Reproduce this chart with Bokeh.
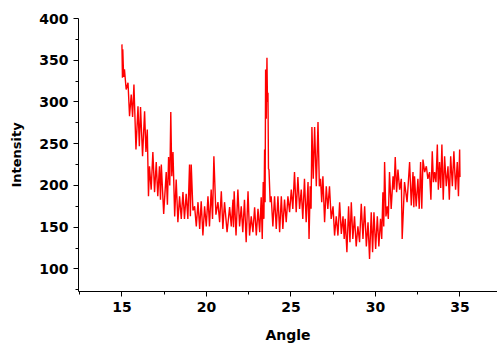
from bokeh.plotting import figure
from bokeh.models import Range1d, FixedTicker
from bokeh.embed import file_html
from bokeh.resources import INLINE

angle = [15.00, 15.03, 15.05, 15.10, 15.15, 15.25, 15.36, 15.45, 15.55, 15.63,
         15.71, 15.83, 15.95, 16.03, 16.10, 16.22, 16.34, 16.42, 16.50, 16.57,
         16.63, 16.73, 16.83, 16.93, 17.03, 17.12, 17.22, 17.28, 17.33, 17.47,
         17.62, 17.69, 17.76, 17.83, 17.89, 17.95, 18.02, 18.12, 18.21, 18.31,
         18.41, 18.51, 18.61, 18.70, 18.80, 18.90, 19.00, 19.05, 19.10, 19.20,
         19.30, 19.40, 19.50, 19.60, 19.69, 19.79, 19.89, 19.99, 20.09, 20.18,
         20.28, 20.36, 20.44, 20.56, 20.68, 20.78, 20.88, 20.97, 21.07, 21.22,
         21.37, 21.47, 21.57, 21.60, 21.64, 21.75, 21.86, 21.96, 22.06, 22.15,
         22.25, 22.35, 22.46, 22.55, 22.65, 22.75, 22.85, 22.95, 23.05, 23.15,
         23.24, 23.30, 23.36, 23.40, 23.44, 23.47, 23.50, 23.54, 23.58, 23.61,
         23.64, 23.67, 23.70, 23.77, 23.83, 23.93, 24.03, 24.13, 24.23, 24.33,
         24.43, 24.52, 24.62, 24.72, 24.82, 24.92, 25.02, 25.11, 25.21, 25.31,
         25.41, 25.51, 25.61, 25.70, 25.80, 25.90, 26.01, 26.07, 26.14, 26.19,
         26.24, 26.32, 26.40, 26.50, 26.60, 26.68, 26.75, 26.82, 26.89, 26.99,
         27.09, 27.18, 27.28, 27.38, 27.49, 27.58, 27.68, 27.78, 27.88, 27.98,
         28.08, 28.15, 28.21, 28.31, 28.41, 28.49, 28.57, 28.66, 28.76, 28.86,
         28.96, 29.06, 29.16, 29.26, 29.36, 29.46, 29.56, 29.65, 29.75, 29.83,
         29.91, 30.01, 30.11, 30.20, 30.30, 30.37, 30.44, 30.49, 30.54, 30.62,
         30.70, 30.76, 30.83, 30.93, 31.04, 31.10, 31.17, 31.25, 31.33, 31.43,
         31.53, 31.58, 31.72, 31.87, 32.02, 32.12, 32.22, 32.27, 32.31, 32.41,
         32.51, 32.59, 32.67, 32.74, 32.81, 32.91, 33.01, 33.10, 33.20, 33.28,
         33.36, 33.43, 33.50, 33.58, 33.66, 33.72, 33.79, 33.86, 33.93, 34.01,
         34.09, 34.19, 34.29, 34.37, 34.45, 34.55, 34.64, 34.74, 34.84, 34.91,
         34.98, 35.00]

intensity = [369, 329, 363, 330, 339, 315, 323, 283, 309, 282,
             321, 243, 295, 247, 294, 235, 289, 240, 267, 187,
             223, 195, 240, 192, 228, 187, 223, 183, 225, 166,
             216, 177, 234, 200, 288, 211, 240, 163, 207, 156,
             187, 160, 192, 160, 190, 160, 225, 163, 225, 170,
             175, 151, 180, 148, 181, 140, 175, 151, 187, 151,
             195, 160, 235, 165, 180, 156, 193, 148, 180, 144,
             174, 151, 183, 150, 193, 140, 195, 151, 175, 144,
             183, 132, 193, 140, 163, 144, 174, 140, 172, 144,
             186, 136, 204, 160, 243, 180, 339, 280, 353, 300,
             311, 220, 219, 180, 187, 151, 187, 148, 187, 144,
             187, 148, 183, 156, 187, 168, 195, 172, 216, 168,
             210, 172, 195, 160, 208, 156, 204, 136, 199, 172,
             270, 208, 270, 199, 276, 199, 208, 180, 211, 156,
             199, 172, 199, 160, 175, 140, 163, 140, 180, 142,
             163, 136, 160, 120, 175, 132, 180, 136, 163, 127,
             151, 132, 178, 136, 175, 127, 156, 112, 168, 120,
             168, 124, 163, 127, 160, 136, 192, 151, 228, 163,
             175, 160, 216, 172, 211, 195, 234, 192, 219, 195,
             208, 136, 204, 180, 228, 176, 216, 174, 211, 175,
             208, 172, 228, 172, 231, 216, 223, 208, 216, 183,
             241, 204, 216, 204, 249, 195, 228, 197, 249, 183,
             235, 199, 223, 183, 235, 199, 241, 195, 228, 187,
             243, 210]

x_major = [15, 20, 25, 30, 35]
x_minor = [12.5, 17.5, 22.5, 27.5, 32.5, 37.5]
y_major = [100, 150, 200, 250, 300, 350, 400]
y_minor = [75, 125, 175, 225, 275, 325, 375]

p = figure(width=497, height=345, output_backend="svg", toolbar_location=None,
           x_range=Range1d(12.43, 37.22), y_range=Range1d(73, 400),
           min_border_left=78, min_border_right=0, min_border_top=18,
           min_border_bottom=53)

p.line(angle, intensity, line_color="#FF0000", line_width=1.4)

p.outline_line_color = None
p.grid.visible = False
p.background_fill_color = "white"
p.border_fill_color = "white"

p.xaxis.ticker = FixedTicker(ticks=x_major, minor_ticks=x_minor)
p.yaxis.ticker = FixedTicker(ticks=y_major, minor_ticks=y_minor)

for ax in (p.xaxis[0], p.yaxis[0]):
    ax.axis_line_color = "black"
    ax.axis_line_width = 1
    ax.major_tick_in = 0
    ax.major_tick_out = 5
    ax.minor_tick_in = 0
    ax.minor_tick_out = 3
    ax.major_tick_line_color = "black"
    ax.minor_tick_line_color = "black"
    ax.major_label_text_font = "DejaVu Sans"
    ax.major_label_text_font_style = "bold"
    ax.major_label_text_font_size = "14px"
    ax.major_label_text_color = "black"
    ax.axis_label_text_font = "DejaVu Sans"
    ax.axis_label_text_font_style = "bold"
    ax.axis_label_text_color = "black"

p.xaxis.axis_label = "Angle"
p.xaxis.axis_label_text_font_size = "14px"
p.xaxis.axis_label_standoff = 12
p.xaxis.major_label_standoff = 5

p.yaxis.axis_label = "Intensity"
p.yaxis.axis_label_text_font_size = "13px"
p.yaxis.axis_label_standoff = 12
p.yaxis.major_label_standoff = 5

open("out.html", "w").write(file_html(p, INLINE))
